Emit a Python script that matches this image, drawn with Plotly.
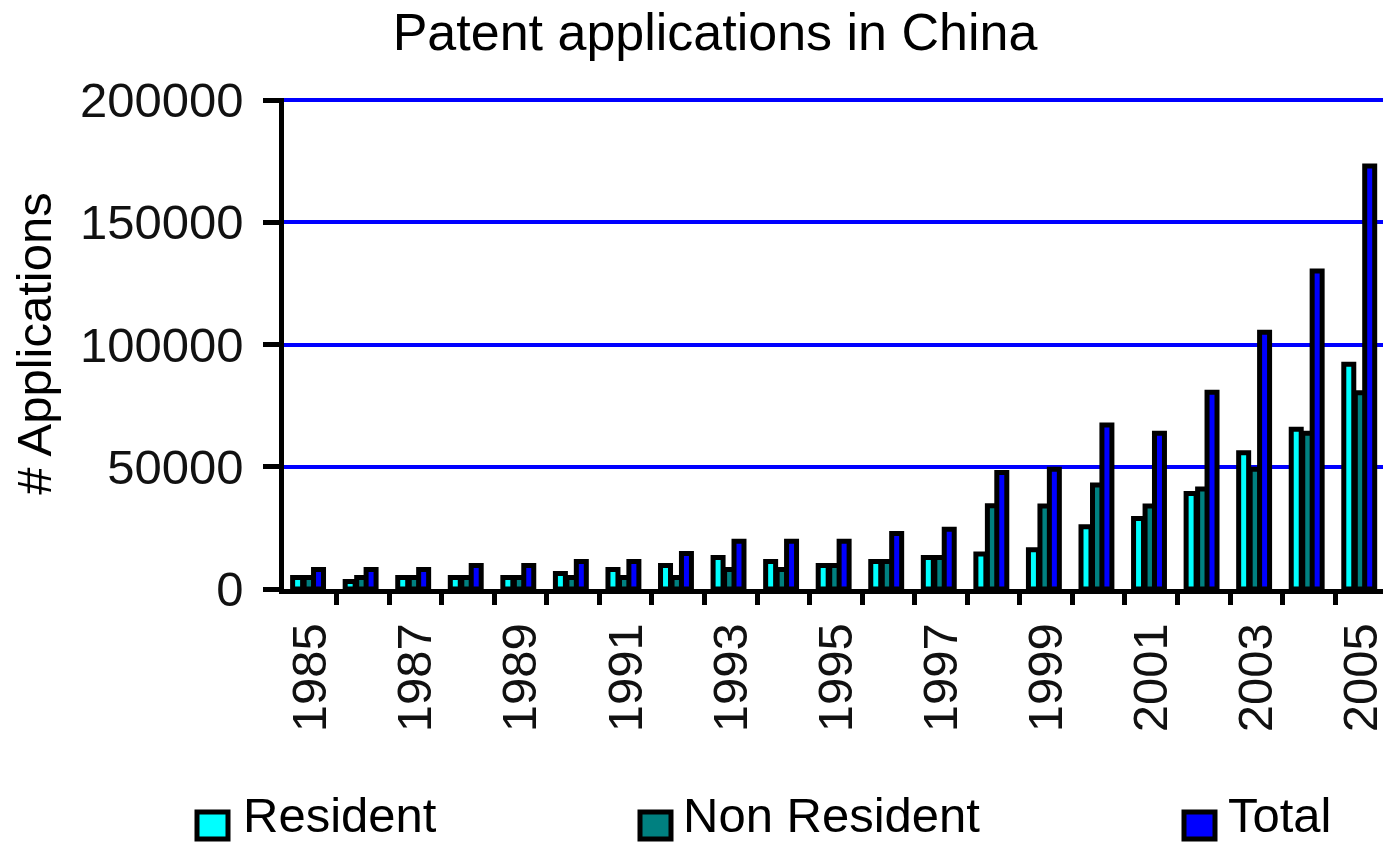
import plotly.graph_objects as go

# Patent applications filed in China, 1985-2005
years = list(range(1985, 2006))
resident = [4730, 3100, 4730, 4730, 4730, 6370, 8010, 9650, 12930, 11290, 9650,
            11290, 12930, 14350, 16050, 25470, 28880, 39110, 55750, 65300, 91900]
non_resident = [4730, 4730, 4730, 4730, 4730, 4730, 4730, 4730, 8010, 8010, 9650,
                11290, 12930, 34100, 33940, 42530, 33940, 40890, 48930, 63660, 80300]
total = [8010, 8010, 8010, 9650, 9650, 11290, 11290, 14560, 19480, 19480, 19480,
         22750, 24390, 47600, 48930, 67080, 63660, 80440, 105000, 130100, 173050]

series_names = ["Resident", "Non Resident", "Total"]
series_colors = ["#00FFFF", "#008080", "#0000FF"]
label_years = [str(y) for y in years[::2]]
y_ticks = [0, 50000, 100000, 150000, 200000]
y_max = 200820  # a hair above the top gridline so it gets drawn

W, H = 1383, 843
L, R, T, B = 284, 0, 98, 254
FONT = "Liberation Sans, Arial, sans-serif"

fig = go.Figure()
bar_w = 0.19
offsets = [-0.336, -0.117, 0.062]
for name, vals, col, off in zip(series_names, [resident, non_resident, total],
                                series_colors, offsets):
    fig.add_trace(go.Bar(
        x=years, y=vals, name=name, width=bar_w, offset=off,
        marker=dict(color=col, line=dict(color="black", width=5)),
        showlegend=False,
    ))

# pixel -> paper helpers for the hand-placed legend
pw, ph = W - L - R, H - T - B
def px(x):
    return (x - L) / pw
def py(y):
    return (H - B - y) / ph

shapes = []
annotations = []
legend_items = [(195, 241), (638, 681), (1182, 1226)]
for (sx, tx), name, col in zip(legend_items, series_names, series_colors):
    shapes.append(dict(type="rect", xref="paper", yref="paper",
                       x0=px(sx + 2), x1=px(sx + 33), y0=py(812), y1=py(839),
                       fillcolor=col, line=dict(color="black", width=5)))
    annotations.append(dict(text=name, xref="paper", yref="paper",
                            x=px(tx), y=py(815), xanchor="left", yanchor="middle",
                            showarrow=False, font=dict(size=49, color="black", family=FONT)))

fig.update_layout(
    width=W, height=H,
    margin=dict(l=L, r=R, t=T, b=B, autoexpand=False),
    paper_bgcolor="white", plot_bgcolor="white",
    barmode="overlay",
    font=dict(family=FONT, color="black", size=49),
    title=dict(text="Patent applications in China", x=715 / W, xanchor="center",
               y=1 - 32 / H, yanchor="middle", yref="container",
               font=dict(size=52, color="black", family=FONT)),
    xaxis=dict(
        range=[1984.5, 2005.41], showline=True, linecolor="black", linewidth=4.5,
        tickmode="array", tickvals=years[::2], ticktext=label_years,
        tickangle=-90, ticks="outside", ticklen=0, ticklabelstandoff=10,
        ticklabeloverflow="allow",
        showgrid=False, zeroline=False,
        tickfont=dict(size=49, color="#111111"),
        minor=dict(tickmode="array", tickvals=[y + 0.5 for y in years[:-1]],
                   ticks="outside", ticklen=11, tickwidth=4.5, tickcolor="black",
                   showgrid=False),
    ),
    yaxis=dict(
        range=[0, y_max], tickmode="array", tickvals=y_ticks, tickformat="d",
        showline=True, linecolor="black", linewidth=4.5,
        ticks="outside", ticklen=16, tickwidth=4.5, tickcolor="black",
        ticklabelstandoff=10,
        gridcolor="#0000FF", gridwidth=4, zeroline=False,
        tickfont=dict(size=49, color="#111111"),
        title=dict(text="# Applications", standoff=14,
                   font=dict(size=49, color="black", family=FONT)),
    ),
    shapes=shapes,
    annotations=annotations,
)

fig.write_html("out.html")
